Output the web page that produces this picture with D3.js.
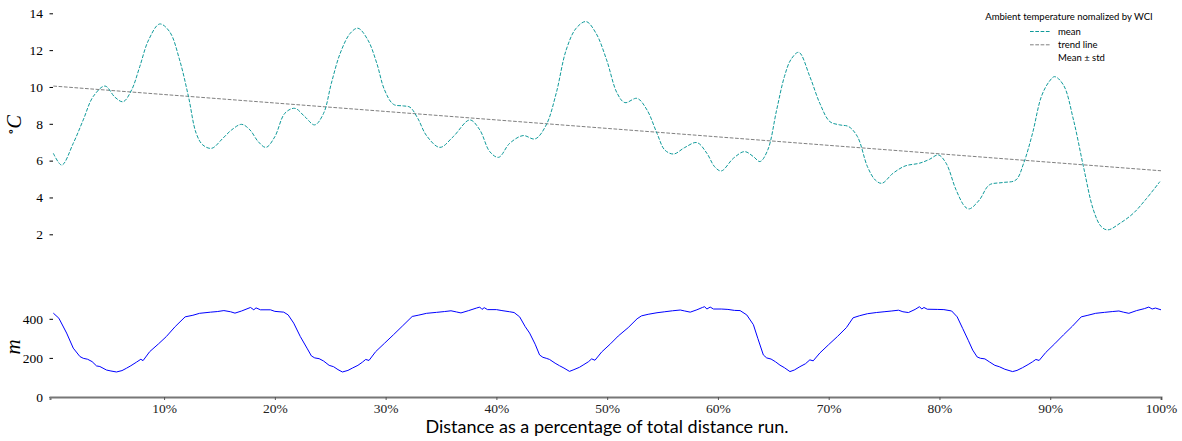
<!DOCTYPE html>
<html>
<head>
<meta charset="utf-8">
<script src="https://cdn.jsdelivr.net/npm/d3@7"></script>
<style>
  html, body { margin: 0; padding: 0; background: #fff; }
  svg { display: block; }
</style>
</head>
<body>
<svg id="chart" width="1182" height="441"></svg>
<script>
// Ambient temperature (normalised by WCI) along the run, in % of total distance
const tempPct = [0.0, 0.76, 1.8, 2.7, 3.6, 4.67, 5.57, 6.3, 7.07, 7.8, 8.6, 9.6, 10.5, 11.4, 12.2, 12.9, 13.5, 14.3, 15.3, 16.1, 17.0, 17.75, 18.5, 19.2, 20.0, 20.9, 21.8, 22.7, 23.6, 24.4, 25.1, 25.9, 26.8, 27.5, 28.4, 29.2, 29.9, 30.7, 31.6, 32.2, 32.9, 33.7, 34.9, 36.1, 37.6, 38.5, 39.4, 40.2, 41.2, 42.4, 43.5, 44.5, 45.4, 46.3, 47.2, 48.1, 49.0, 49.95, 50.9, 51.6, 52.7, 53.6, 54.5, 55.2, 56.0, 57.0, 58.1, 59.0, 59.7, 60.3, 61.4, 62.4, 63.2, 63.8, 64.5, 65.3, 66.0, 66.6, 67.3, 68.3, 69.2, 70.1, 71.0, 71.8, 72.6, 73.5, 74.2, 74.8, 75.8, 76.9, 78.2, 79.1, 79.9, 80.6, 81.5, 82.3, 82.7, 83.6, 84.5, 85.7, 86.9, 87.6, 88.4, 89.2, 89.9, 90.4, 91.2, 92.1, 93.0, 93.9, 94.6, 95.2, 96.3, 97.5, 98.7, 99.9];
const tempMean = [6.40, 5.76, 6.94, 8.21, 9.48, 10.05, 9.44, 9.20, 9.84, 11.10, 12.55, 13.42, 13.00, 11.47, 9.48, 7.48, 6.85, 6.67, 7.21, 7.67, 7.97, 7.67, 7.03, 6.72, 7.30, 8.57, 8.84, 8.39, 7.94, 8.57, 10.20, 11.83, 12.91, 13.19, 12.55, 11.29, 9.84, 9.06, 8.97, 8.90, 8.30, 7.35, 6.72, 7.30, 8.21, 7.67, 6.49, 6.18, 6.94, 7.36, 7.18, 7.94, 9.66, 12.01, 13.19, 13.55, 12.91, 11.47, 9.66, 9.15, 9.38, 8.75, 7.48, 6.58, 6.36, 6.71, 6.98, 6.40, 5.67, 5.44, 6.13, 6.49, 6.22, 5.95, 6.58, 8.75, 10.56, 11.50, 11.88, 10.56, 9.11, 8.12, 7.94, 7.85, 7.30, 5.67, 4.95, 4.77, 5.31, 5.71, 5.86, 6.07, 6.31, 5.86, 4.41, 3.50, 3.38, 3.86, 4.68, 4.81, 4.95, 5.86, 7.48, 9.48, 10.29, 10.56, 10.10, 8.21, 5.67, 3.32, 2.42, 2.24, 2.60, 3.14, 3.95, 4.86];

// Linear trend of the temperature (start and end of the run)
const trendPct = [0, 100];
const trendC = [10.05, 5.45];

// Elevation profile (m) over the five laps
const elevPct = [0.0, 0.5, 1.2, 1.8, 2.4, 2.7, 3.1, 3.5, 3.9, 4.2, 4.8, 5.2, 5.7, 6.2, 6.6, 7.0, 7.5, 7.9, 8.1, 8.7, 9.5, 10.2, 11.0, 11.9, 12.6, 13.2, 14.2, 14.8, 15.4, 16.0, 16.4, 17.0, 17.8, 18.1, 18.3, 18.7, 19.6, 20.0, 20.8,
  21.2, 21.7, 22.3, 22.9, 23.3, 23.6, 24.0, 24.4, 24.9, 25.3, 25.7, 26.1, 26.6, 27.0, 27.5, 27.9, 28.2, 28.5, 29.1, 29.9, 30.7, 31.5, 32.4, 33.0, 33.7, 34.6, 35.3, 35.9, 36.4, 36.8, 37.5, 38.2, 38.5, 38.7, 38.9, 39.2, 40.0, 40.5, 41.2, 41.6,
  42.1, 42.6, 43.0, 43.5, 43.9, 44.2, 44.5, 44.8, 45.3, 45.7, 46.1, 46.6, 47.0, 47.5, 47.9, 48.3, 48.6, 48.9, 49.5, 50.3, 51.0, 51.9, 52.7, 53.1, 53.7, 54.5, 55.2, 55.9, 56.6, 57.0, 57.5, 58.1, 58.6, 58.8, 59.0, 59.3, 59.6, 60.3, 60.9, 61.5, 62.0, 62.6,
  63.2, 63.6, 64.1, 64.4, 64.8, 65.2, 65.6, 66.0, 66.5, 66.9, 67.4, 67.9, 68.3, 68.6, 69.2, 70.0, 70.8, 71.6, 72.2, 72.8, 73.5, 74.3, 75.0, 75.7, 76.3, 76.7, 77.2, 77.8, 78.2, 78.4, 78.6, 78.9, 79.8, 80.4, 81.1,
  81.6, 82.1, 82.6, 83.0, 83.4, 83.7, 84.1, 84.5, 85.0, 85.4, 85.9, 86.6, 87.0, 87.5, 88.0, 88.4, 88.7, 89.0, 89.6, 90.4, 91.2, 92.0, 92.8, 93.4, 94.1, 94.9, 95.6, 96.2, 96.6, 97.1, 97.8, 98.5, 98.9, 99.2, 99.5, 100.0];
const elevM = [429, 403, 327, 250, 207, 198, 193, 181, 159, 156, 138, 133, 128, 135, 147, 160, 178, 193, 186, 232, 272, 309, 360, 410, 418, 428, 434, 437, 442, 436, 429, 440, 458, 446, 456, 446, 446, 438, 434,
  420, 378, 309, 250, 210, 200, 196, 184, 162, 155, 140, 128, 136, 148, 162, 178, 192, 187, 232, 275, 318, 362, 412, 419, 428, 433, 437, 441, 435, 430, 442, 455, 460, 448, 457, 447, 447, 442, 436, 432,
  410, 360, 327, 270, 215, 203, 198, 192, 173, 160, 148, 131, 140, 152, 166, 180, 195, 188, 230, 272, 312, 355, 400, 415, 423, 431, 436, 441, 445, 440, 434, 446, 458, 462, 450, 460, 450, 450, 448, 443, 442, 420,
  370, 300, 215, 200, 194, 180, 163, 150, 130, 138, 155, 170, 190, 185, 225, 268, 310, 355, 405, 416, 426, 432, 436, 440, 444, 436, 432, 448, 462, 450, 458, 449, 448, 447, 440,
  410, 350, 290, 240, 205, 198, 195, 180, 162, 155, 142, 130, 136, 150, 166, 180, 192, 187, 228, 272, 318, 362, 410, 418, 428, 433, 437, 440, 434, 428, 442, 452, 460, 450, 455, 446];

const tempTicks = [2, 4, 6, 8, 10, 12, 14];
const elevTicks = [0, 200, 400];
const pctTicks = [10, 20, 30, 40, 50, 60, 70, 80, 90, 100];

const legendTitle = "Ambient temperature nomalized by WCI";
const legendItems = ["mean", "trend line", "Mean \u00b1 std"];

const svg = d3.select("#chart");
const serif = "'Liberation Serif', 'DejaVu Serif', serif";
const sans = "Lato, 'Open Sans', sans-serif";

const x = d3.scaleLinear().domain([-0.3, 100]).range([50, 1161]);
const yT = d3.scaleLinear().domain([2, 14]).range([234.3, 13.3]);
const yE = d3.scaleLinear().domain([0, 400]).range([397, 318.8]);

// ---- temperature panel ----
const tAxis = svg.append("g")
  .attr("transform", "translate(53,0)")
  .call(d3.axisLeft(yT).tickValues(tempTicks).tickSize(3.5).tickPadding(6.5));
tAxis.select(".domain").remove();
tAxis.selectAll("text").attr("font-family", serif).attr("font-size", 13.5).attr("fill", "#000");

const trendLine = d3.line().x((d, i) => x(trendPct[i])).y(d => yT(d));
svg.append("path")
  .datum(trendC)
  .attr("d", trendLine)
  .attr("fill", "none")
  .attr("stroke", "#808080")
  .attr("stroke-width", 1)
  .attr("stroke-dasharray", "3.7,1.6");

const meanLine = d3.line()
  .x((d, i) => x(tempPct[i]))
  .y(d => yT(d))
  .curve(d3.curveCatmullRom.alpha(0.5));
svg.append("path")
  .datum(tempMean)
  .attr("d", meanLine)
  .attr("fill", "none")
  .attr("stroke", "#0f9a9a")
  .attr("stroke-width", 1)
  .attr("stroke-dasharray", "3.7,1.6");

svg.append("text")
  .attr("transform", "translate(21,125) rotate(-90)")
  .attr("text-anchor", "middle")
  .attr("font-family", serif)
  .attr("font-size", 20)
  .call(t => {
    t.append("tspan").attr("font-size", 13).attr("dy", -6).text("\u2218");
    t.append("tspan").attr("font-style", "italic").attr("dy", 6).text("C");
  });

// legend
const lg = svg.append("g").attr("font-family", sans).attr("fill", "#000");
lg.append("text").attr("x", 1069).attr("y", 19.5).attr("text-anchor", "middle")
  .attr("font-size", 9.5).text(legendTitle);
const legendColors = ["#0f9a9a", "#808080", null];
legendItems.forEach((name, i) => {
  const yy = 31.5 + i * 13.3;
  if (legendColors[i]) {
    lg.append("line").attr("x1", 1030).attr("x2", 1050).attr("y1", yy).attr("y2", yy)
      .attr("stroke", legendColors[i]).attr("stroke-width", 1).attr("stroke-dasharray", "3.7,1.6");
  }
  lg.append("text").attr("x", 1058).attr("y", yy + 3.3).attr("font-size", 9.5).text(name);
});

// ---- elevation panel ----
const eAxis = svg.append("g")
  .attr("transform", "translate(53,0)")
  .call(d3.axisLeft(yE).tickValues(elevTicks).tickSize(3.5).tickPadding(6.5));
eAxis.select(".domain").remove();
eAxis.selectAll("text").attr("font-family", serif).attr("font-size", 13.5).attr("fill", "#000");

const xAxis = svg.append("g")
  .attr("transform", "translate(0,397)")
  .call(d3.axisBottom(x).tickValues(pctTicks).tickSize(3).tickPadding(3.5).tickFormat(d => d + "%"));
xAxis.select(".domain").attr("stroke", "#777").attr("stroke-width", 2);
xAxis.selectAll(".tick line").attr("stroke", "#555");
xAxis.selectAll("text").attr("font-family", serif).attr("font-size", 13.5).attr("fill", "#222");

const elevLine = d3.line().x((d, i) => x(elevPct[i])).y(d => yE(d));
svg.append("path")
  .datum(elevM)
  .attr("d", elevLine)
  .attr("fill", "none")
  .attr("stroke", "#0000ff")
  .attr("stroke-width", 1);

svg.append("text")
  .attr("transform", "translate(20,347) rotate(-90)")
  .attr("text-anchor", "middle")
  .attr("font-family", serif)
  .attr("font-style", "italic")
  .attr("font-size", 21)
  .text("m");

svg.append("text")
  .attr("x", 607).attr("y", 433)
  .attr("text-anchor", "middle")
  .attr("font-family", sans)
  .attr("font-size", 18)
  .text("Distance as a percentage of total distance run.");
</script>
</body>
</html>
